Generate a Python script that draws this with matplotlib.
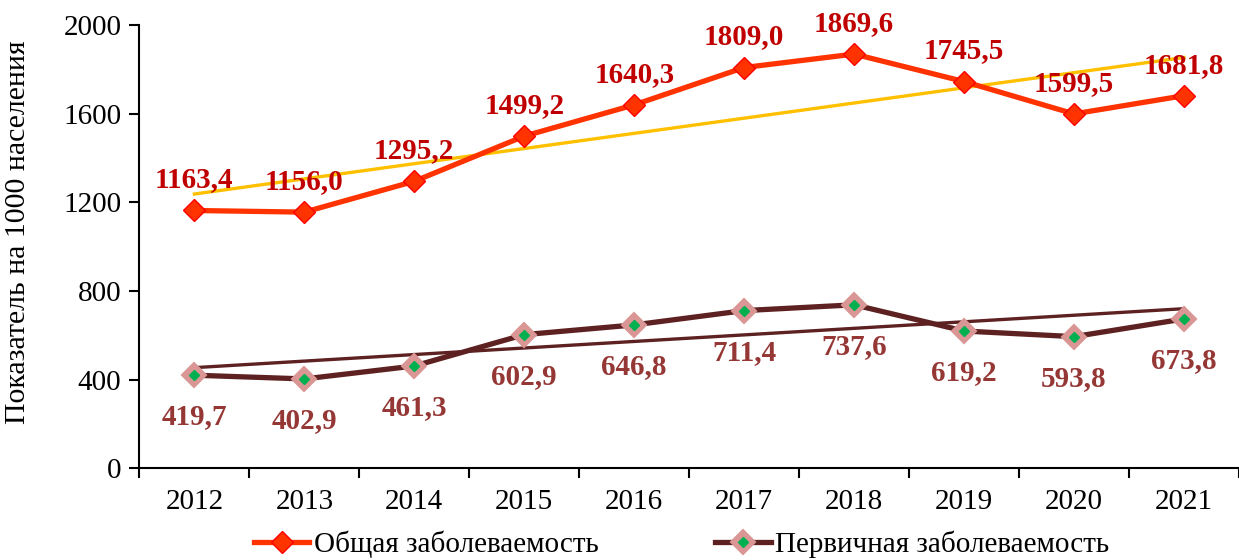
import numpy as np
import matplotlib
matplotlib.use('Agg')
import matplotlib.pyplot as plt
from matplotlib.legend_handler import HandlerTuple

# данные
years = ['2012', '2013', '2014', '2015', '2016', '2017', '2018', '2019', '2020', '2021']
obshaya = [1163.4, 1156.0, 1295.2, 1499.2, 1640.3, 1809.0, 1869.6, 1745.5, 1599.5, 1681.8]
pervichnaya = [419.7, 402.9, 461.3, 602.9, 646.8, 711.4, 737.6, 619.2, 593.8, 673.8]

plt.rcParams['font.family'] = ['Liberation Serif', 'DejaVu Serif']

fig = plt.figure(figsize=(12.39, 5.6), dpi=100)
ax = fig.add_axes([0.1125, 0.164, 0.8875, 0.791])

x = np.arange(len(years))

# линии тренда (линейная аппроксимация)
k1, b1 = np.polyfit(x, obshaya, 1)
k2, b2 = np.polyfit(x, pervichnaya, 1)
ax.plot(x, k1 * x + b1, color='#FFC000', lw=2.4, zorder=2)
ax.plot(x, k2 * x + b2, color='#5E2121', lw=2.4, zorder=2)

l1, = ax.plot(x, obshaya, color='#FF3300', lw=3.8, marker='D', ms=11,
              markerfacecolor='#FF3300', markeredgecolor='#FF0000', markeredgewidth=1,
              zorder=3)
l2, = ax.plot(x, pervichnaya, color='#5E2121', lw=3.8, marker='D', ms=12.5,
              markerfacecolor='#D99694', markeredgecolor='#D99694', markeredgewidth=1.5,
              zorder=3)
l3, = ax.plot(x, pervichnaya, ls='none', marker='D', ms=5,
              markerfacecolor='#00B050', markeredgecolor='#00B050', zorder=4)

def fmt(v):
    return ('%.1f' % v).replace('.', ',')

for i, v in enumerate(obshaya):
    ax.annotate(fmt(v), (x[i], v), xytext=(0, 22), textcoords='offset points',
                ha='center', va='center', fontsize=21, fontweight='bold',
                color='#C00000', zorder=5)
for i, v in enumerate(pervichnaya):
    ax.annotate(fmt(v), (x[i], v), xytext=(0, -30), textcoords='offset points',
                ha='center', va='center', fontsize=21, fontweight='bold',
                color='#953735', zorder=5)

ax.set_xlim(-0.5, len(years) - 0.5)
ax.set_ylim(0, 2000)
ax.set_yticks(range(0, 2001, 400))
ax.set_xticks(np.arange(-0.5, len(years), 1))
ax.set_xticklabels([])
ax.set_xticks(x, minor=True)
ax.set_xticklabels(years, minor=True)
ax.tick_params(axis='x', which='major', direction='out', length=7, width=1.5)
ax.tick_params(axis='x', which='minor', length=0, pad=15, labelsize=21)
ax.tick_params(axis='y', direction='out', length=7, width=1.5, labelsize=21, pad=6)

for s in ['top', 'right']:
    ax.spines[s].set_visible(False)
ax.spines['left'].set_linewidth(1.5)
ax.spines['bottom'].set_linewidth(1.5)

ax.set_ylabel('Показатель на 1000 населения', fontsize=21.5)
ax.yaxis.set_label_coords(-0.099, 0.533)

fig.legend([l1, (l2, l3)], ['Общая заболеваемость', 'Первичная заболеваемость'],
           handler_map={tuple: HandlerTuple(ndivide=1)},
           loc='center', bbox_to_anchor=(0.55, 0.028), ncol=2, frameon=False,
           fontsize=21, handlelength=1.9, handletextpad=0.15, columnspacing=4.0,
           numpoints=1)

fig.savefig('out.png', dpi=100)
